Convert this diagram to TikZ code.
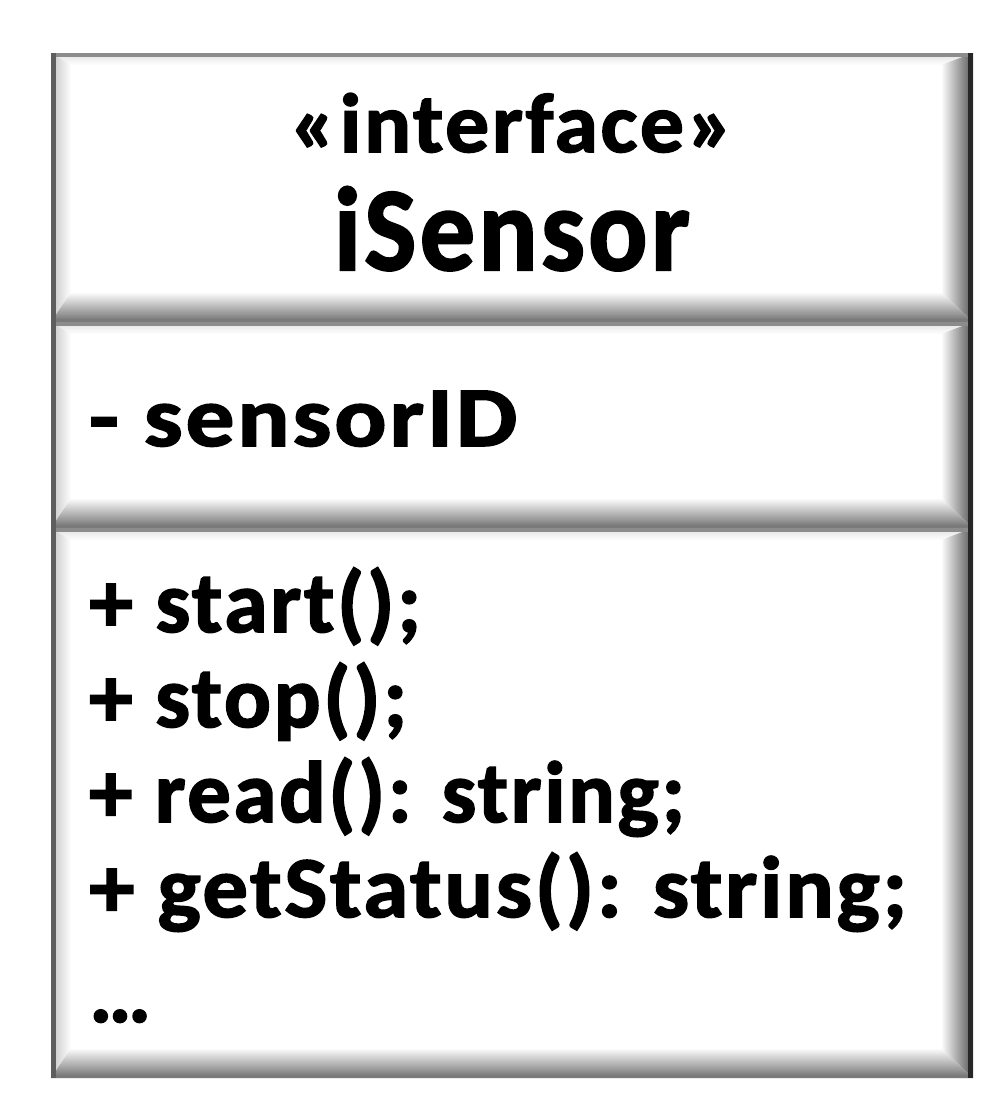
\documentclass[tikz,border=0pt]{standalone}
\usepackage{fontspec}
\usepackage{graphicx}
\setmainfont{Carlito}[BoldFeatures={FakeBold=1.8,LetterSpace=3}]
\definecolor{edgeL}{HTML}{5E5E5E}
\definecolor{edgeT}{HTML}{8C8C8C}
\definecolor{edgeR}{HTML}{262626}
\definecolor{edgeB}{HTML}{7A7A7A}
\definecolor{bevL}{HTML}{C4C4C4}
\definecolor{bevT}{HTML}{E0E0E0}
\definecolor{bevR}{HTML}{555555}
\definecolor{bevRm}{HTML}{D0D0D0}
\definecolor{bevB}{HTML}{6E6E6E}
\definecolor{bevBm}{HTML}{D6D6D6}
\newcommand\umlsec[4]{%
  \fill[white] (#1,#2) rectangle (#3,#4);
  \shade[top color=bevT, bottom color=white] (#1,#2) -- (#3,#2) -- ({#3-32},{#2+12}) -- ({#1+20},{#2+12}) -- cycle;
  \shade[left color=bevL, right color=white] (#1,#2) -- ({#1+20},{#2+12}) -- ({#1+20},{#4-30}) -- (#1,#4) -- cycle;
  \shade[left color=white, middle color=bevRm, right color=bevR] (#3,#2) -- (#3,#4) -- ({#3-32},{#4-30}) -- ({#3-32},{#2+12}) -- cycle;
  \shade[top color=white, middle color=bevBm, bottom color=bevB] (#1,#4) -- ({#1+20},{#4-30}) -- ({#3-32},{#4-30}) -- (#3,#4) -- cycle;
  \draw[edgeT, line width=4pt] (#1,{#2+2}) -- (#3,{#2+2});
  \draw[edgeB, line width=3pt] (#1,{#4-1.5}) -- (#3,{#4-1.5});
  \draw[edgeL, line width=5pt] ({#1+2.5},#2) -- ({#1+2.5},#4);
  \draw[edgeR, line width=5pt] ({#3-2.5},#2) -- ({#3-2.5},#4);
}
\newcommand\fitw[2]{\resizebox{#1pt}{\height}{#2}}
\tikzset{
  txt/.style={inner sep=0pt, font=\bfseries\fontsize{#1}{#1}\selectfont},
  member/.style={txt=87, anchor=base west}
}
\begin{document}
\begin{tikzpicture}[x=1pt,y=-1pt]
\useasboundingbox (0,0) rectangle (1000,1111);
\fill[white] (0,0) rectangle (1000,1111);
\umlsec{51}{53}{973}{322}
\umlsec{51}{322}{973}{528}
\umlsec{51}{528}{973}{1078}
\node[txt=84, anchor=base] (stereo) at (512,152) {\fitw{444}{«interface»}};
\node[txt=119, anchor=base] (name) at (512,270) {\fitw{356}{iSensor}};
\node[txt=85, anchor=base west] (attr) at (89,446) {\fitw{428}{- sensorID}};
\node[member] (m1) at (89,632) {\fitw{332}{+ start();}};
\node[member] (m2) at (89,727) {\fitw{318}{+ stop();}};
\node[member] (m3) at (89,822) {\fitw{596}{+ read(): string;}};
\node[member] (m4) at (89,917) {\fitw{818}{+ getStatus(): string;}};
\node[member] (m5) at (89,1022) {\fitw{62}{…}};
\end{tikzpicture}
\end{document}
